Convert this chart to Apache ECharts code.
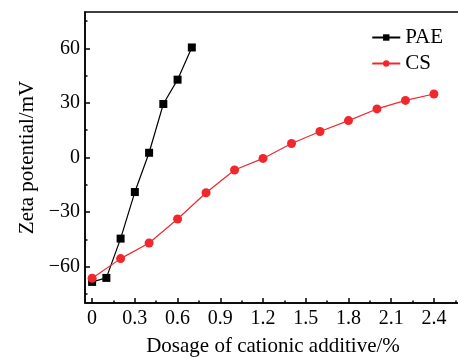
<!DOCTYPE html>
<html lang="en" style="height: 100%;width: 100%">
<head>
    <meta charset="utf-8">
</head>
<body style="height: 100%;width: 100%; margin: 0">
<div id="container" style="height: 357px;width: 458px;"></div>
<script type="text/javascript" src="https://cdn.jsdelivr.net/npm/echarts@6/dist/echarts.min.js"></script>
<script type="text/javascript">
    // data
    var paeDose = [0, 0.1, 0.2, 0.3, 0.4, 0.5, 0.6, 0.7];
    var paeZeta = [-68.4, -66.2, -44.6, -19.0, 2.6, 29.4, 42.8, 60.5];
    var csDose = [0, 0.2, 0.4, 0.6, 0.8, 1.0, 1.2, 1.4, 1.6, 1.8, 2.0, 2.2, 2.4];
    var csZeta = [-66.4, -55.6, -47.0, -33.8, -19.4, -6.9, -0.5, 7.7, 14.3, 20.3, 26.7, 31.4, 34.9];
    var xTicks = [0, 0.3, 0.6, 0.9, 1.2, 1.5, 1.8, 2.1, 2.4];
    var xMinor = [0.15, 0.45, 0.75, 1.05, 1.35, 1.65, 1.95, 2.25, 2.55];
    var yTicks = [-60, -30, 0, 30, 60];
    var yMinor = [-75, -45, -15, 15, 45, 75];

    var font = 'Liberation Serif';
    var dom = document.getElementById('container');
    var myChart = echarts.init(dom, null, {renderer: 'canvas'});

    function pairs(xs, ys) {
        var d = [];
        for (var i = 0; i < xs.length; i++) d.push([xs[i], ys[i]]);
        return d;
    }

    var xBase = {
        type: 'value', min: -0.05, max: 2.59,
        splitLine: {show: false}
    };
    var yBase = {
        type: 'value', min: -80, max: 80,
        splitLine: {show: false}
    };

    var option = {
        animation: false,
        grid: {
            left: 85, top: 12, bottom: 54, right: -3,
            outerBoundsMode: 'none', containLabel: false,
            show: true, borderColor: '#000', borderWidth: 1.5
        },
        legend: {
            orient: 'vertical', right: 10, top: 22, itemGap: 5,
            itemWidth: 28, itemHeight: 8,
            textStyle: {fontFamily: font, fontSize: 21, color: '#000'},
            data: ['PAE', 'CS']
        },
        xAxis: [
            Object.assign({}, xBase, {
                position: 'bottom',
                name: 'Dosage of cationic additive/%',
                nameLocation: 'middle', nameGap: 33,
                nameTextStyle: {fontFamily: font, fontSize: 21, color: '#000'},
                axisLine: {show: true, onZero: false, lineStyle: {color: '#000', width: 1.5}},
                axisTick: {show: true, inside: true, length: 5, customValues: xTicks, lineStyle: {color: '#000', width: 1.5}},
                axisLabel: {customValues: xTicks, margin: 6, fontFamily: font, fontSize: 20, color: '#000',
                    formatter: function (v) { return String(v); }}
            }),
            Object.assign({}, xBase, {
                position: 'bottom',
                axisLine: {show: false, onZero: false},
                axisTick: {show: true, inside: true, length: 2.5, customValues: xMinor, lineStyle: {color: '#000', width: 1.5}},
                axisLabel: {show: false}
            })
        ],
        yAxis: [
            Object.assign({}, yBase, {
                position: 'left',
                name: 'Zeta potential/mV',
                nameLocation: 'middle', nameGap: 45,
                nameTextStyle: {fontFamily: font, fontSize: 21, color: '#000'},
                axisLine: {show: true, onZero: false, lineStyle: {color: '#000', width: 1.5}},
                axisTick: {show: true, inside: true, length: 5, customValues: yTicks, lineStyle: {color: '#000', width: 1.5}},
                axisLabel: {customValues: yTicks, margin: 5, fontFamily: font, fontSize: 20, color: '#000',
                    formatter: function (v) { return String(v).replace('-', '\u2212'); }}
            }),
            Object.assign({}, yBase, {
                position: 'left',
                axisLine: {show: false, onZero: false},
                axisTick: {show: true, inside: true, length: 2.5, customValues: yMinor, lineStyle: {color: '#000', width: 1.5}},
                axisLabel: {show: false}
            })
        ],
        series: [
            {
                name: 'PAE', type: 'line',
                data: pairs(paeDose, paeZeta),
                symbol: 'rect', symbolSize: 8,
                itemStyle: {color: '#000'},
                lineStyle: {color: '#000', width: 1.2}
            },
            {
                name: 'CS', type: 'line',
                data: pairs(csDose, csZeta),
                symbol: 'circle', symbolSize: 9,
                itemStyle: {color: '#f0282d'},
                lineStyle: {color: '#f0282d', width: 1.2}
            }
        ]
    };
    myChart.setOption(option);
</script>
</body>
</html>
